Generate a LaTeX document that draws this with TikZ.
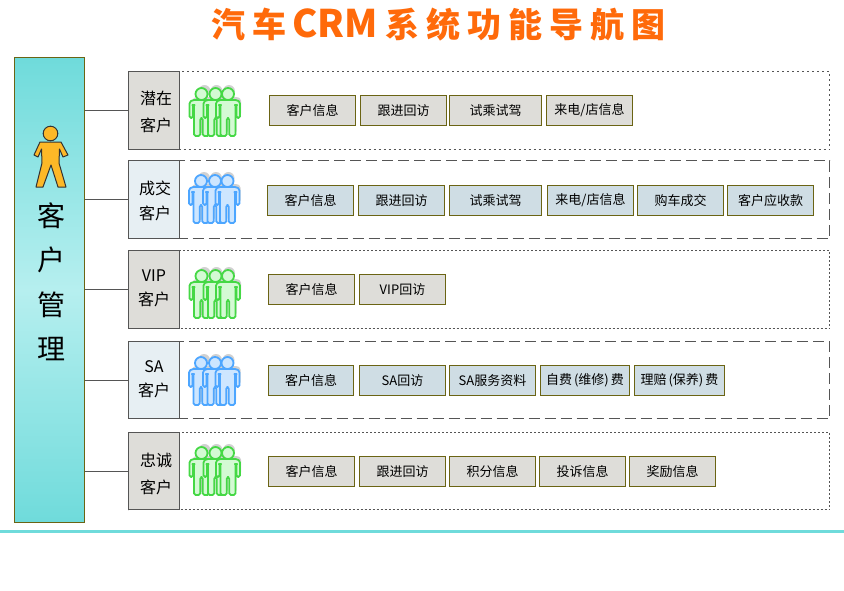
\documentclass[tikz,border=0pt]{standalone}
\usepackage{fontspec}
\setmainfont{Noto Sans CJK SC}
\definecolor{ttl}{HTML}{FF6A0A}
\definecolor{oliveb}{HTML}{6B6414}
\definecolor{grayf}{HTML}{DEDDD9}
\definecolor{bluef}{HTML}{CFDDE4}
\definecolor{lblue}{HTML}{E7EFF3}
\definecolor{edge}{HTML}{555555}
\definecolor{tealA}{HTML}{6FDBDB}
\definecolor{tealB}{HTML}{B6EFEF}
\definecolor{grn}{HTML}{45D845}
\definecolor{grnf}{HTML}{D4FAD4}
\definecolor{blu}{HTML}{4DA6FF}
\definecolor{bluf}{HTML}{CDE6FF}
\definecolor{orng}{HTML}{FDB827}
\tikzset{
  x=1pt,y=-1pt,
  itembox/.style={draw=oliveb,line width=1pt,inner sep=0pt,font=\fontsize{13}{13}\selectfont},
  grayitem/.style={itembox,fill=grayf},
  blueitem/.style={itembox,fill=bluef},
  labelbox/.style={draw=edge,line width=1pt,inner sep=0pt},
  frameA/.style={draw=edge,line width=1pt,dash pattern=on 2pt off 3pt,inner sep=0pt},
  frameB/.style={draw=edge,line width=1pt,dash pattern=on 11pt off 5pt,inner sep=0pt},
  frameC/.style={draw=edge,line width=1pt,dash pattern=on 2pt off 2pt,inner sep=0pt},
  labeltext/.style={inner sep=0pt,align=center},
  link/.style={draw=edge,line width=1pt}
}
% name, x1, y1, x2, y2, style, text
\newcommand\bx[7]{\node[#6,minimum width={(#4-#2)*1pt},minimum height={(#5-#3)*1pt}] (#1) at ({(#2+#4)/2},{(#3+#5)/2}) {#7};}
% one person: head centre
\newcommand\onefig[4]{%
 \path[xshift=#1pt,yshift=-#2pt,#3,#4,line join=round,rounded corners=1.6pt]
   (-9,6)--(9,6)--(12,8)--(12,24)--(8.5,24)--(8.5,11)--(7.5,11)--(7.5,42)--(1.2,42)--(1.2,24)--(-1.2,24)--(-1.2,42)--(-7.5,42)--(-7.5,11)--(-8.5,11)--(-8.5,24)--(-12,24)--(-12,8)--cycle;
 \path[xshift=#1pt,yshift=-#2pt,#3,#4] (0,0) circle[radius=6];}
\newcommand\group[4]{%
 \onefig{#1+3}{#2+3}{fill=black!18}{}
 \onefig{#1+15}{#2+3}{fill=black!18}{}
 \onefig{#1+27.5}{#2+3}{fill=black!18}{}
 \onefig{#1}{#2}{draw=#3,line width=1.8pt}{fill=#4}
 \onefig{#1+14}{#2}{draw=#3,line width=1.8pt}{fill=#4}
 \onefig{#1+26.5}{#2}{draw=#3,line width=1.8pt}{fill=#4}}
\begin{document}
\begin{tikzpicture}
\useasboundingbox (0,0) rectangle (844,590);
\fill[white] (0,0) rectangle (844,590);
% title
\node[anchor=west,inner sep=0pt,text=ttl,font=\bfseries\fontsize{34}{34}\selectfont] (title) at (211,25)
  {汽\hspace{7pt}车\hspace{6pt}{\fontsize{38}{38}\selectfont CRM}\hspace{8pt}系\hspace{7pt}统\hspace{7pt}功\hspace{7pt}能\hspace{7pt}导\hspace{7pt}航\hspace{7pt}图};
% left panel
\bx{panel}{14.5}{57.5}{84.5}{522.5}{draw=oliveb,line width=1pt,inner sep=0pt,top color=tealA,bottom color=tealA,middle color=tealB}{}
\node[inner sep=0pt,align=center,font=\fontsize{28}{44.5}\selectfont] (paneltext) at (51.5,282) {客\\户\\管\\理};
\path[fill=orng,draw=black!80,line width=1pt,line join=round]
 (40,142)--(61,142)--(68,155)--(63,157)--(59.5,149)--(59,163)--(66,187)--(58,187)--(51,165)--(43,187)--(36,187)--(42,163)--(41.5,149)--(38,157)--(34,155)--cycle;
\path[fill=orng,draw=black!80,line width=1pt] (50.5,133.5) circle[radius=7.3];
% frames
\bx{f1}{128.5}{71.5}{829.5}{149.5}{frameA}{}
\bx{f2}{128.5}{160.5}{829.5}{238.5}{frameB}{}
\bx{f3}{128.5}{250.5}{829.5}{328.5}{frameC}{}
\bx{f4}{128.5}{341.5}{829.5}{418.5}{frameB}{}
\bx{f5}{128.5}{432.5}{829.5}{509.5}{frameC}{}
% label boxes
\bx{l1}{128.5}{71.5}{179.5}{149.5}{labelbox,fill=grayf}{}
\bx{l2}{128.5}{160.5}{179.5}{238.5}{labelbox,fill=lblue}{}
\bx{l3}{128.5}{250.5}{179.5}{328.5}{labelbox,fill=grayf}{}
\bx{l4}{128.5}{341.5}{179.5}{418.5}{labelbox,fill=lblue}{}
\bx{l5}{128.5}{432.5}{179.5}{509.5}{labelbox,fill=grayf}{}
\node[labeltext,font=\fontsize{16}{27}\selectfont] (t1) at (156,112) {潜在\\客户};
\node[labeltext,font=\fontsize{16}{25}\selectfont] (t2) at (155,201) {成交\\客户};
\node[labeltext,font=\fontsize{16}{24}\selectfont] (t3) at (154,288.5) {VIP\\客户};
\node[labeltext,font=\fontsize{16}{24}\selectfont] (t4) at (154,379) {SA\\客户};
\node[labeltext,font=\fontsize{16}{27}\selectfont] (t5) at (156,473.5) {忠诚\\客户};
% connectors
\draw[link] (panel.east |- l1.west) -- (l1.west);
\draw[link] (panel.east |- l2.west) -- (l2.west);
\draw[link] (panel.east |- l3.west) -- (l3.west);
\draw[link] (panel.east |- l4.west) -- (l4.west);
\draw[link] (panel.east |- l5.west) -- (l5.west);
% people
\group{201.5}{94}{grn}{grnf}
\group{201}{181}{blu}{bluf}
\group{201.5}{276}{grn}{grnf}
\group{201}{363}{blu}{bluf}
\group{201.5}{453}{grn}{grnf}
% row 1
\bx{a1}{269.5}{95.5}{355.5}{125.5}{grayitem}{客户信息}
\bx{a2}{360.5}{95.5}{446.5}{125.5}{grayitem}{跟进回访}
\bx{a3}{449.5}{95.5}{541.5}{125.5}{grayitem}{试乘试驾}
\bx{a4}{546.5}{95.5}{632.5}{125.5}{grayitem}{来电/店信息}
% row 2
\bx{b1}{267.5}{185.5}{353.5}{215.5}{blueitem}{客户信息}
\bx{b2}{358.5}{185.5}{444.5}{215.5}{blueitem}{跟进回访}
\bx{b3}{449.5}{185.5}{541.5}{215.5}{blueitem}{试乘试驾}
\bx{b4}{547.5}{185.5}{633.5}{215.5}{blueitem}{来电/店信息}
\bx{b5}{637.5}{185.5}{723.5}{215.5}{blueitem}{购车成交}
\bx{b6}{727.5}{185.5}{813.5}{215.5}{blueitem}{客户应收款}
% row 3
\bx{c1}{268.5}{274.5}{354.5}{304.5}{grayitem}{客户信息}
\bx{c2}{359.5}{274.5}{445.5}{304.5}{grayitem}{VIP回访}
% row 4
\bx{d1}{268.5}{365.5}{353.5}{395.5}{blueitem}{客户信息}
\bx{d2}{359.5}{365.5}{445.5}{395.5}{blueitem}{SA回访}
\bx{d3}{449.5}{365.5}{535.5}{395.5}{blueitem}{SA服务资料}
\bx{d4}{540.5}{365.5}{629.5}{395.5}{blueitem}{自费\hspace{2pt}(维修)\hspace{2pt}费}
\bx{d5}{634.5}{365.5}{724.5}{395.5}{blueitem}{理赔\hspace{2pt}(保养)\hspace{2pt}费}
% row 5
\bx{e1}{268.5}{456.5}{354.5}{486.5}{grayitem}{客户信息}
\bx{e2}{359.5}{456.5}{445.5}{486.5}{grayitem}{跟进回访}
\bx{e3}{449.5}{456.5}{535.5}{486.5}{grayitem}{积分信息}
\bx{e4}{539.5}{456.5}{625.5}{486.5}{grayitem}{投诉信息}
\bx{e5}{629.5}{456.5}{715.5}{486.5}{grayitem}{奖励信息}
% bottom rule
\fill[tealA] (0,530) rectangle (844,533);
\end{tikzpicture}
\end{document}
